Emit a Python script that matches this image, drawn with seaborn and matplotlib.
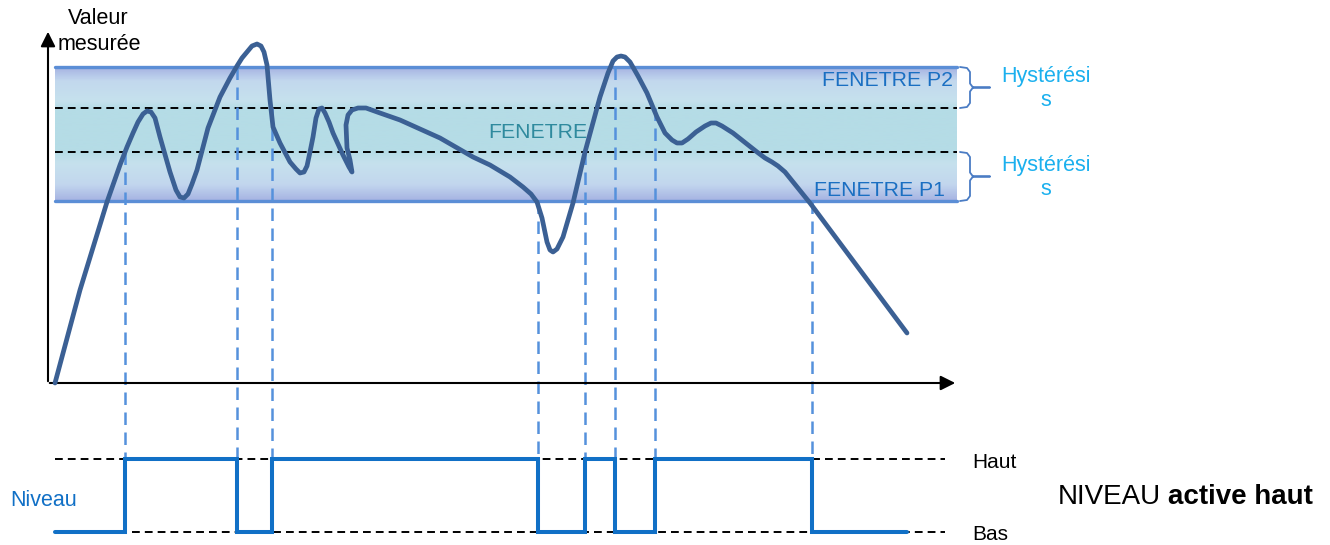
"""
Fenêtre avec hystérésis - sortie NIVEAU active haut
"""
import numpy as np
import pandas as pd
import matplotlib
matplotlib.use('Agg')
import matplotlib.pyplot as plt
from matplotlib.colors import LinearSegmentedColormap
import seaborn as sns

# ── données (repère en pixels de l'image, y vers le bas) ───────────────────
curve_x = [55, 80, 107, 120, 127, 133, 138, 143, 147, 151,
           155, 160, 170, 176, 180, 184, 188, 192, 197, 208,
           220, 230, 237, 242, 247, 252, 257, 261, 264, 267,
           270, 273, 280, 290, 296, 300, 304, 307, 310, 313,
           316, 319, 322, 325, 329, 333, 343, 349, 352, 350,
           347, 346, 348, 352, 358, 366, 380, 400, 440, 473,
           490, 510, 523, 531, 537, 542, 547, 550, 553, 557,
           563, 573, 585, 600, 608, 613, 617, 621, 625, 630,
           638, 647, 657, 665, 672, 677, 682, 688, 696, 705,
           711, 716, 722, 733, 757, 765, 772, 778, 785, 810,
           860, 907]
curve_y = [383, 290, 202, 165, 147, 133, 122, 114, 111, 112,
           118, 137, 172, 190, 197, 198, 194, 184, 170, 128,
           97, 78, 66, 58, 52, 46, 44, 46, 52, 65,
           100, 127, 143, 162, 169, 173, 172, 166, 152, 137,
           118, 109, 108, 113, 122, 133, 155, 167, 172, 160,
           148, 125, 115, 110, 108, 108, 113, 120, 138, 157,
           165, 177, 187, 194, 202, 218, 242, 250, 252, 249,
           237, 203, 152, 97, 73, 61, 57, 56, 57, 62,
           76, 93, 117, 133, 140, 143, 143, 139, 132, 126,
           123, 123, 126, 133, 152, 158, 162, 166, 172, 203,
           270, 333]

# seuils de la fenêtre
p2_haut, p2_bas = 67, 108      # hystérésis haute
p1_haut, p1_bas = 152, 201     # hystérésis basse

# commutations de la sortie
switch_x = [125, 237, 272, 538, 585, 615, 655, 812]
switch_top = [152, 67, 108, 201, 152, 67, 108, 201]
level_x = [55, 125, 237, 272, 538, 585, 615, 655, 812, 907]
level_state = [0, 1, 0, 1, 0, 1, 0, 1, 0, 0]
y_haut, y_bas = 459, 532

x0, x1 = 55, 957

# ── style ─────────────────────────────────────────────────────────────────
sns.set_style('white')
plt.rcParams['font.family'] = ['Liberation Sans', 'DejaVu Sans']

fig = plt.figure(figsize=(13.3, 5.45), dpi=100)
ax = fig.add_axes([0, 0, 1, 1])
ax.set_xlim(0, 1330)
ax.set_ylim(545, 0)
ax.axis('off')

# bande FENETRE en dégradé
cmap = LinearSegmentedColormap.from_list('band', [
    (0.00, '#a6b3e2'), (0.10, '#c2d8ee'), (0.25, '#c6e1ed'), (0.31, '#b5dce6'),
    (0.63, '#b5dce6'), (0.72, '#c6e1ed'), (0.88, '#c2d6ee'), (1.00, '#a6b3e2')])
grad = np.linspace(0, 1, 200).reshape(-1, 1)
ax.imshow(grad, cmap=cmap, aspect='auto', extent=[x0, x1, p1_bas, p2_haut], zorder=0)
for yy in (p2_haut, p1_bas):
    ax.plot([x0, x1], [yy, yy], color='#5b8ed6', lw=2.4, zorder=2)
for yy in (p2_bas, p1_haut):
    ax.plot([x0, x1], [yy, yy], color='black', lw=1.4, dashes=(4, 2.6), zorder=2)

# lignes de commutation
for sx, st in zip(switch_x, switch_top):
    ax.plot([sx, sx], [st, 457], color='#5591dc', lw=1.8, dashes=(5, 3), zorder=3)

# courbe mesurée
df_curve = pd.DataFrame({'x': curve_x, 'y': curve_y})
sns.lineplot(data=df_curve, x='x', y='y', sort=False, estimator=None, ax=ax,
             color='#3b6094', lw=3.4, solid_joinstyle='round', solid_capstyle='round', zorder=4)

# axes avec flèches
ax.annotate('', xy=(48, 29), xytext=(48, 384),
            arrowprops=dict(arrowstyle='-|>', color='black', lw=1.5, mutation_scale=22))
ax.annotate('', xy=(958, 383), xytext=(47, 383),
            arrowprops=dict(arrowstyle='-|>', color='black', lw=1.5, mutation_scale=22))

# accolades d'hystérésis
for top, bot in ((p2_haut, p2_bas), (p1_haut, p1_bas)):
    mid = (top + bot) / 2
    bx = [960, 967, 970, 970, 973, 990, 973, 970, 970, 967, 960]
    by = [top, top + 1, top + 5, mid - 4, mid, mid, mid, mid + 4, bot - 5, bot - 1, bot]
    ax.plot(bx, by, color='#4a7cc4', lw=1.3)
    ax.text(1046, mid - 11, 'Hystérési', ha='center', va='center', fontsize=15.5, color='#1bb0ee')
    ax.text(1046, mid + 13, 's', ha='center', va='center', fontsize=15.5, color='#1bb0ee')

# textes du graphe
ax.text(68, 18, 'Valeur', ha='left', va='center', fontsize=15.5, color='black')
ax.text(58, 45, 'mesurée', ha='left', va='center', fontsize=15.5, color='black')
ax.text(953, 80, 'FENETRE P2', ha='right', va='center', fontsize=15.3, color='#1a6fc2')
ax.text(945, 190, 'FENETRE P1', ha='right', va='center', fontsize=15.3, color='#1a6fc2')
ax.text(488, 132, 'FENETRE', ha='left', va='center', fontsize=15.3, color='#2f8a9e')

# sortie NIVEAU
for yy in (y_haut, y_bas):
    ax.plot([x0, 945], [yy, yy], color='black', lw=1.4, dashes=(4, 2.6), zorder=2)
df_level = pd.DataFrame({'x': level_x,
                         'y': [y_bas - s * (y_bas - y_haut) for s in level_state]})
sns.lineplot(data=df_level, x='x', y='y', sort=False, estimator=None, ax=ax,
             drawstyle='steps-post', color='#1170c6', lw=2.9,
             solid_joinstyle='miter', zorder=4)

ax.text(10, 500, 'Niveau', ha='left', va='center', fontsize=15.5, color='#1170c6')
ax.text(972, 462, 'Haut', ha='left', va='center', fontsize=15, color='black')
ax.text(972, 535, 'Bas', ha='left', va='center', fontsize=15, color='black')
ax.text(1058, 497, 'NIVEAU', ha='left', va='center', fontsize=20, color='black')
ax.text(1313, 497, 'active haut', ha='right', va='center', fontsize=20,
        fontweight='bold', color='black')

fig.savefig('out.png', dpi=100)
plt.close(fig)
